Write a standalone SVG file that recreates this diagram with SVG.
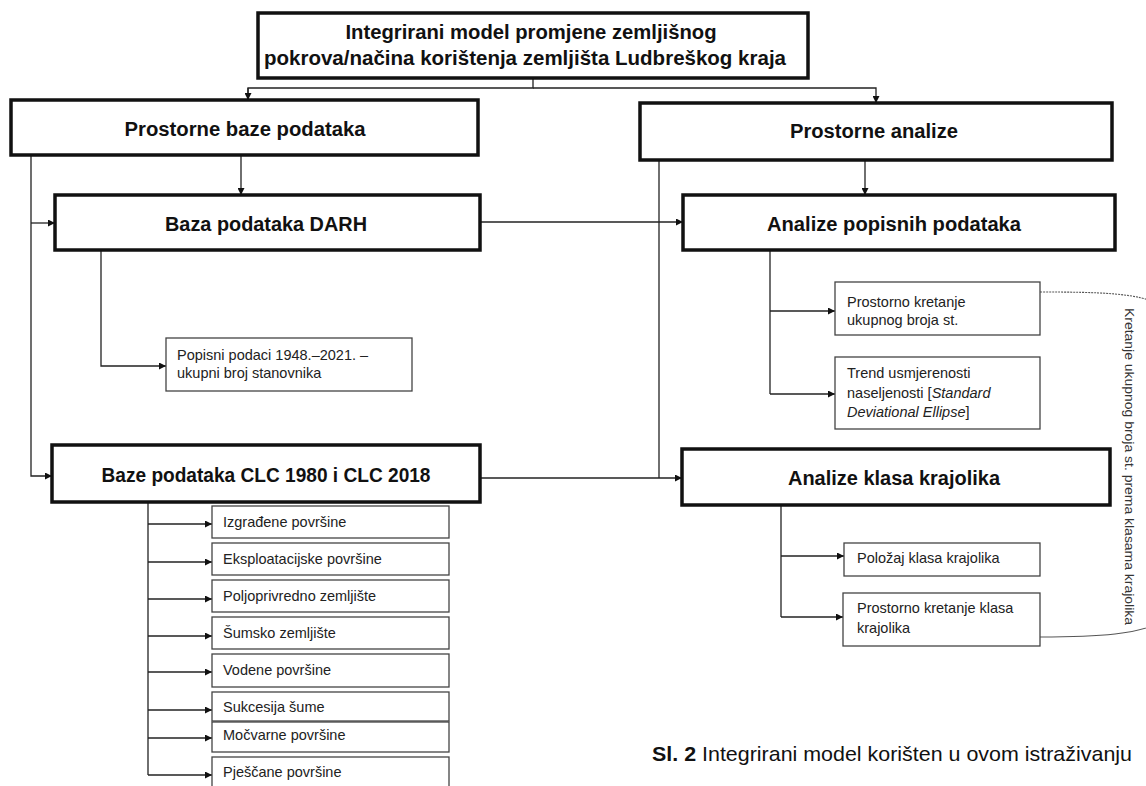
<svg xmlns="http://www.w3.org/2000/svg" width="1146" height="786" viewBox="0 0 1146 786">
<defs>
<marker id="ah" viewBox="0 0 10 10" refX="10" refY="5" markerWidth="7" markerHeight="7" markerUnits="userSpaceOnUse" orient="auto">
<path d="M0,0 L10,5 L0,10 Z" fill="#111"/>
</marker>
<style>
.thick{fill:#fff;stroke:#111;stroke-width:3.5}
.thin{fill:#fff;stroke:#444;stroke-width:1.3}
.hd{font-family:"Liberation Sans",Arial,sans-serif;font-weight:bold;font-size:20px;fill:#111;text-anchor:middle}
.sm{font-family:"Liberation Sans",Arial,sans-serif;font-size:14.5px;fill:#222}
.con{fill:none;stroke:#222;stroke-width:1.3}
.arr{marker-end:url(#ah)}
.cap{font-family:"Liberation Sans",Arial,sans-serif;font-size:21px;fill:#111}
</style>
</defs>
<rect width="1146" height="786" fill="#fff"/>

<g id="connectors">
<path class="con" d="M533,78 V88 H248 V100"/>
<path class="con arr" d="M248,88 V100"/>
<path class="con arr" d="M533,88 H876 V103"/>
<path class="con arr" d="M241,155 V195"/>
<path class="con arr" d="M31,155 V476 H52"/>
<path class="con arr" d="M31,223 H55"/>
<path class="con arr" d="M480,222 H683"/>
<path class="con arr" d="M865,160 V195"/>
<path class="con" d="M659,160 V478"/>
<path class="con arr" d="M480,478 H682"/>
<path class="con arr" d="M101,250 V366 H166"/>
<path class="con" d="M770,250 V394"/>
<path class="con arr" d="M770,311 H835"/>
<path class="con arr" d="M770,394 H835"/>
<path class="con" d="M781,505 V617"/>
<path class="con arr" d="M781,556 H844"/>
<path class="con arr" d="M781,617 H843"/>
<path class="con" d="M148,502 V775"/>
<path class="con arr" d="M148,524 H212"/>
<path class="con arr" d="M148,562 H212"/>
<path class="con arr" d="M148,599 H212"/>
<path class="con arr" d="M148,636 H212"/>
<path class="con arr" d="M148,672 H212"/>
<path class="con arr" d="M148,710 H212"/>
<path class="con arr" d="M148,738 H212"/>
<path class="con arr" d="M148,775 H212"/>
<path fill="none" stroke="#555" stroke-width="1.1" stroke-dasharray="2 1" d="M1040,292 C1100,292 1140,293 1160,305"/>
<path fill="none" stroke="#555" stroke-width="1.1" d="M1040,637 C1100,637 1140,634 1160,622"/>
<text transform="translate(1125,308) rotate(90)" font-family="Liberation Sans, Arial, sans-serif" font-size="13" fill="#333" textLength="317" lengthAdjust="spacingAndGlyphs">Kretanje ukupnog broja st. prema klasama krajolika</text>
</g>

<g id="n-title">
<rect class="thick" x="258" y="13" width="550" height="65"/>
<text class="hd" x="531" y="39" textLength="371" lengthAdjust="spacingAndGlyphs">Integrirani model promjene zemljišnog</text>
<text class="hd" x="525" y="65" textLength="522" lengthAdjust="spacingAndGlyphs">pokrova/načina korištenja zemljišta Ludbreškog kraja</text>
</g>

<g id="n-prostorne-baze">
<rect class="thick" x="11" y="100" width="467" height="55"/>
<text class="hd" x="245" y="136" textLength="241" lengthAdjust="spacingAndGlyphs">Prostorne baze podataka</text>
</g>

<g id="n-prostorne-analize">
<rect class="thick" x="640" y="103" width="472" height="57"/>
<text class="hd" x="874" y="138" textLength="168" lengthAdjust="spacingAndGlyphs">Prostorne analize</text>
</g>

<g id="n-darh">
<rect class="thick" x="55" y="195" width="425" height="55"/>
<text class="hd" x="266" y="231" textLength="202" lengthAdjust="spacingAndGlyphs">Baza podataka DARH</text>
</g>

<g id="n-analize-popisnih">
<rect class="thick" x="683" y="195" width="432" height="55"/>
<text class="hd" x="894" y="231" textLength="254" lengthAdjust="spacingAndGlyphs">Analize popisnih podataka</text>
</g>

<g id="n-popisni">
<rect class="thin" x="166" y="338" width="246" height="53"/>
<text class="sm" x="177" y="360">Popisni podaci 1948.–2021. –</text>
<text class="sm" x="177" y="378">ukupni broj stanovnika</text>
</g>

<g id="n-kretanje-st">
<rect class="thin" x="835" y="282" width="205" height="53"/>
<text class="sm" x="847" y="307">Prostorno kretanje</text>
<text class="sm" x="847" y="325">ukupnog broja st.</text>
</g>

<g id="n-trend">
<rect class="thin" x="835" y="357" width="205" height="72"/>
<text class="sm" x="847" y="378">Trend usmjerenosti</text>
<text class="sm" x="847" y="398">naseljenosti [<tspan font-style="italic">Standard</tspan></text>
<text class="sm" x="847" y="417"><tspan font-style="italic">Deviational Ellipse</tspan>]</text>
</g>

<g id="n-clc">
<rect class="thick" x="52" y="445" width="428" height="57"/>
<text class="hd" x="266" y="482" textLength="329" lengthAdjust="spacingAndGlyphs">Baze podataka CLC 1980 i CLC 2018</text>
</g>

<g id="n-analize-klasa">
<rect class="thick" x="682" y="449" width="428" height="56"/>
<text class="hd" x="894" y="485" textLength="212" lengthAdjust="spacingAndGlyphs">Analize klasa krajolika</text>
</g>

<g id="n-polozaj">
<rect class="thin" x="844" y="543" width="196" height="33"/>
<text class="sm" x="857" y="563">Položaj klasa krajolika</text>
</g>

<g id="n-kretanje-klasa">
<rect class="thin" x="843" y="593" width="197" height="53"/>
<text class="sm" x="857" y="613">Prostorno kretanje klasa</text>
<text class="sm" x="857" y="633">krajolika</text>
</g>

<g id="n-izgradene"><rect class="thin" x="212" y="506" width="237" height="32"/><text class="sm" x="223" y="527">Izgrađene površine</text></g>
<g id="n-eksploatacijske"><rect class="thin" x="212" y="543" width="237" height="32"/><text class="sm" x="223" y="564">Eksploatacijske površine</text></g>
<g id="n-poljoprivredno"><rect class="thin" x="212" y="580" width="237" height="32"/><text class="sm" x="223" y="601">Poljoprivredno zemljište</text></g>
<g id="n-sumsko"><rect class="thin" x="212" y="617" width="237" height="32"/><text class="sm" x="223" y="638">Šumsko zemljište</text></g>
<g id="n-vodene"><rect class="thin" x="212" y="654" width="237" height="33"/><text class="sm" x="223" y="675">Vodene površine</text></g>
<g id="n-sukcesija"><rect class="thin" x="212" y="692" width="237" height="29"/><text class="sm" x="223" y="712">Sukcesija šume</text></g>
<g id="n-mocvarne"><rect class="thin" x="212" y="722" width="237" height="30"/><text class="sm" x="223" y="740">Močvarne površine</text></g>
<g id="n-pjescane"><rect class="thin" x="212" y="757" width="237" height="40"/><text class="sm" x="223" y="777">Pješčane površine</text></g>

<g id="caption">
<text class="cap" x="652" y="761" textLength="480" lengthAdjust="spacingAndGlyphs"><tspan font-weight="bold">Sl. 2</tspan> Integrirani model korišten u ovom istraživanju</text>
</g>
</svg>
